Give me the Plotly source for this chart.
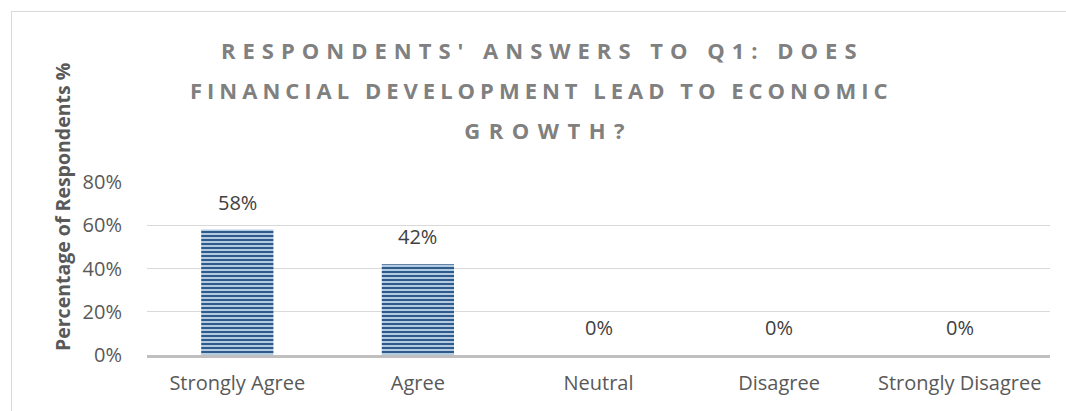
import plotly.graph_objects as go

# Survey responses to Q1
categories = ["Strongly Agree", "Agree", "Neutral", "Disagree", "Strongly Disagree"]
percentages = [58, 42, 0, 0, 0]
tick_values = [0, 20, 40, 60, 80]
tick_labels = ["0%", "20%", "40%", "60%", "80%"]

title_lines = [
    "RESPONDENTS' ANSWERS TO Q1: DOES",
    "FINANCIAL DEVELOPMENT LEAD TO ECONOMIC",
    "GROWTH?",
]
y_title = "Percentage of Respondents %"

FONT = "Open Sans, Calibri, sans-serif"
TEXT_GREY = "#595959"

W, H = 1066, 411
L, R, T, B = 147, 16, 182, 56
plot_w = W - L - R
plot_h = H - T - B


def px_x(p):
    return (p - L) / plot_w


def px_y(p):
    return (H - B - p) / plot_h


fig = go.Figure()
fig.add_trace(go.Bar(
    x=categories,
    y=percentages,
    marker=dict(
        color="#bdd3ea",
        line=dict(width=0),
        pattern=dict(shape="-", fgcolor="#2f5b88", bgcolor="#c2d7ec",
                     size=4, solidity=0.55, fillmode="replace"),
    ),
    width=0.4,
    hoverinfo="skip",
))

annotations = []
# chart title, one annotation per line so the line spacing can be set
for line, xc, yc in zip(title_lines, [542, 541, 548], [50, 90, 130]):
    annotations.append(dict(
        text=line, x=px_x(xc), y=px_y(yc), xref="paper", yref="paper",
        showarrow=False, xanchor="center", yanchor="middle",
        font=dict(family=FONT, size=22, color="#808080", weight="bold"),
    ))

# value labels above each bar
for cat, val in zip(categories, percentages):
    annotations.append(dict(
        text=f"{val}%", x=cat, y=val, xref="x", yref="y",
        showarrow=False, xanchor="center", yanchor="bottom", yshift=12,
        font=dict(family=FONT, size=20, color="#404040"),
    ))

annotations.append(dict(
    text=y_title, x=px_x(62), y=px_y(207), xref="paper", yref="paper",
    showarrow=False, textangle=-90, xanchor="center", yanchor="middle",
    font=dict(family=FONT, size=19.5, color=TEXT_GREY, weight="bold"),
))

fig.update_layout(
    width=W, height=H,
    margin=dict(l=L, r=R, t=T, b=B),
    paper_bgcolor="white", plot_bgcolor="white",
    showlegend=False,
    font=dict(family=FONT, color=TEXT_GREY),
    xaxis=dict(
        showgrid=False, showline=True, linecolor="#bfbfbf", linewidth=2.5,
        ticks="", tickfont=dict(size=20, color=TEXT_GREY),
        range=[-0.5, 4.5], ticklabelstandoff=8,
    ),
    yaxis=dict(
        range=[0, 80], tickvals=tick_values, ticktext=tick_labels,
        showgrid=True, gridcolor="#d9d9d9", gridwidth=1,
        zeroline=False, showline=False, ticks="",
        ticklabelstandoff=24,
        tickfont=dict(size=20, color=TEXT_GREY),
    ),
    annotations=annotations,
    shapes=[
        dict(type="line", xref="paper", yref="paper", x0=px_x(11), x1=px_x(1070),
             y0=px_y(11.5), y1=px_y(11.5), line=dict(color="#d9d9d9", width=1)),
        dict(type="line", xref="paper", yref="paper", x0=px_x(11.5), x1=px_x(11.5),
             y0=px_y(11), y1=px_y(415), line=dict(color="#d9d9d9", width=1)),
    ],
)

# widen the letter spacing of the three title lines
title_css = """
var s = document.createElement('style');
s.textContent = '.annotation[data-index="0"] text { letter-spacing: 7px; }'
  + '.annotation[data-index="1"] text { letter-spacing: 5px; }'
  + '.annotation[data-index="2"] text { letter-spacing: 8.5px; }';
document.head.appendChild(s);
"""

fig.write_html("out.html", post_script=title_css)
